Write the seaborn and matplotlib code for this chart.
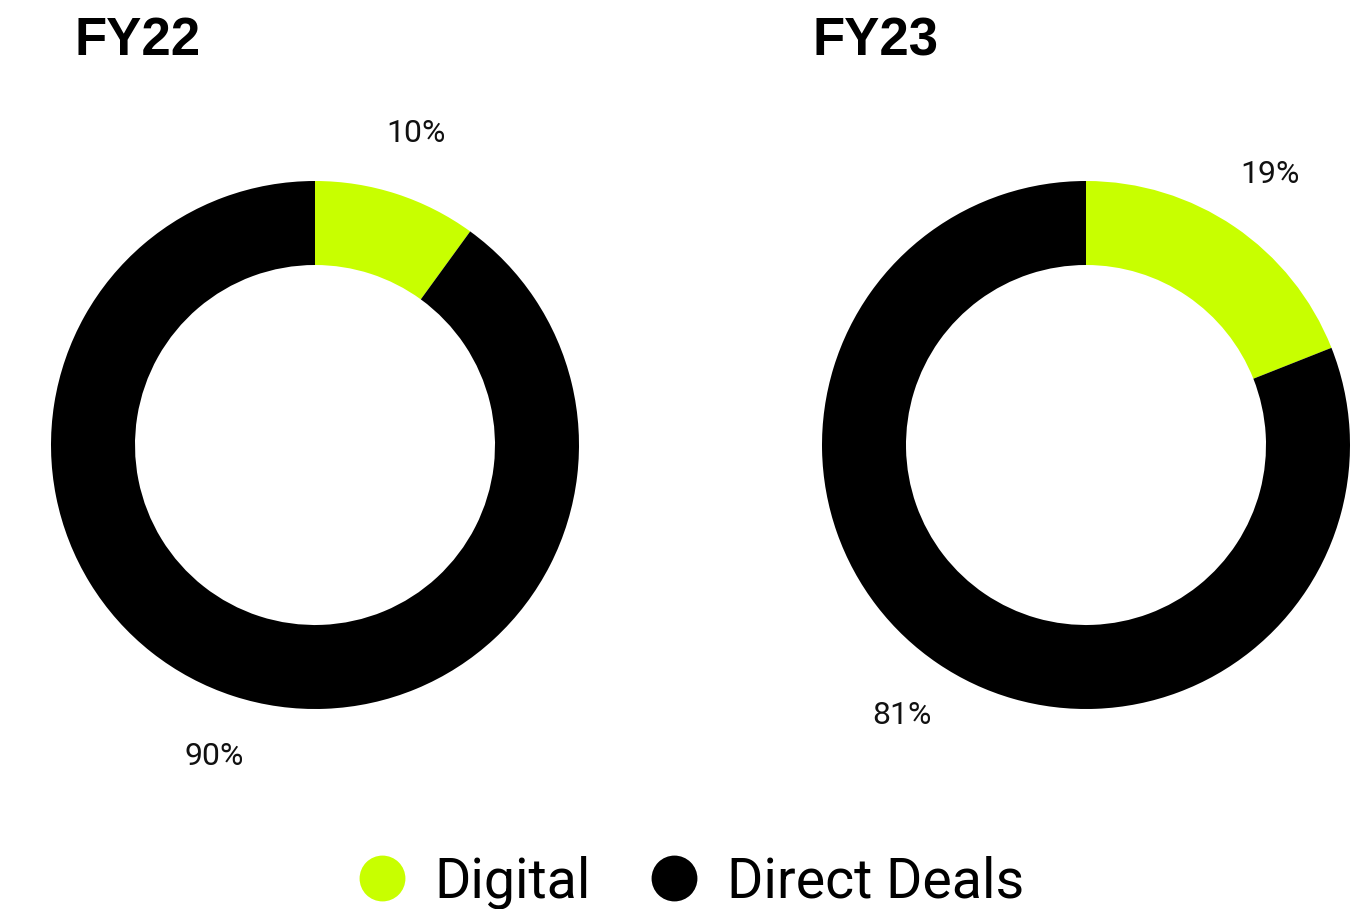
import matplotlib
matplotlib.use("Agg")
import matplotlib.pyplot as plt
from matplotlib.lines import Line2D
import seaborn as sns

# data
years = ["FY22", "FY23"]
segments = ["Digital", "Direct Deals"]
digital_share = [10, 19]
direct_share = [90, 81]
colors = ["#c8ff00", "#000000"]

sns.set_theme(style="white")
plt.rcParams["font.family"] = ["Roboto", "DejaVu Sans"]
plt.rcParams["text.color"] = "black"

W, H = 1368, 909
fig = plt.figure(figsize=(W / 100, H / 100), dpi=100)
fig.patch.set_facecolor("white")

# donut centres in pixels, outer radius
centres = [(315, 445), (1086, 445)]
R = 264
title_x = [75, 812]

for i, yr in enumerate(years):
    cx, cy = centres[i]
    ax = fig.add_axes([(cx - R) / W, (H - cy - R) / H, 2 * R / W, 2 * R / H])
    vals = [digital_share[i], direct_share[i]]
    wedges, texts, autotexts = ax.pie(
        vals,
        colors=colors,
        startangle=90,
        counterclock=False,
        radius=1,
        wedgeprops=dict(width=84 / R, edgecolor="none"),
        autopct=lambda p: f"{p:.0f}%",
        pctdistance=1.24,
        textprops=dict(fontsize=23, color="#111111"),
    )
    ax.set_xlim(-1, 1)
    ax.set_ylim(-1, 1)
    ax.set_axis_off()
    fig.text(title_x[i] / W, 1 - 41 / H, yr, ha="left", va="center", color="black",
             fontsize=38, fontweight="bold", family=["Liberation Sans", "DejaVu Sans"])

handles = [Line2D([0], [0], marker="o", linestyle="none", markersize=33,
                  markerfacecolor=c, markeredgecolor="none") for c in colors]
fig.legend(handles, segments, ncol=2, loc="center",
           bbox_to_anchor=(689 / W, 1 - 882 / H), frameon=False,
           prop=dict(size=40), handletextpad=0.45,
           columnspacing=1.0, handlelength=1.0)

fig.savefig("out.png", dpi=100, facecolor="white")
